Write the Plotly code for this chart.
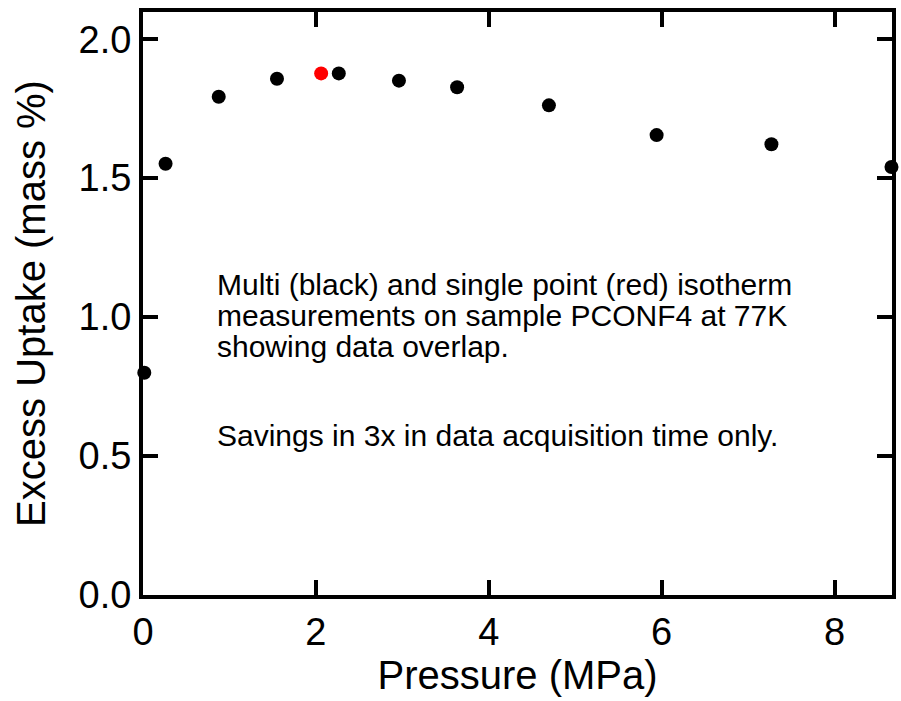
import plotly.graph_objects as go

# Multi-point isotherm (black)
multi_pressure = [0.015, 0.261, 0.876, 1.550, 2.265, 2.961, 3.634, 4.696, 5.942, 7.270, 8.659]
multi_uptake = [0.800, 1.552, 1.793, 1.858, 1.877, 1.851, 1.827, 1.762, 1.655, 1.622, 1.540]

# Single-point measurement (red)
single_pressure = [2.061]
single_uptake = [1.877]

x_ticks = [0, 2, 4, 6, 8]
y_ticks = [0.0, 0.5, 1.0, 1.5, 2.0]
y_tick_text = ["0.0", "0.5", "1.0", "1.5", "2.0"]

note_lines = [
    "Multi (black) and single point (red) isotherm",
    "measurements on sample PCONF4 at 77K",
    "showing data overlap.",
    "Savings in 3x in data acquisition time only.",
]
note_y = [0.533, 0.479, 0.426, 0.274]

font_family = "Liberation Sans, Arial, sans-serif"

fig = go.Figure()
fig.add_trace(go.Scatter(x=multi_pressure, y=multi_uptake, mode="markers",
                         marker=dict(color="black", size=14), cliponaxis=False,
                         showlegend=False))
fig.add_trace(go.Scatter(x=single_pressure, y=single_uptake, mode="markers",
                         marker=dict(color="#ff0000", size=14), cliponaxis=False,
                         showlegend=False))

for txt, yy in zip(note_lines, note_y):
    fig.add_annotation(
        x=0.096, xref="paper", xanchor="left",
        y=yy, yref="paper", yanchor="middle",
        text=txt, showarrow=False, align="left",
        font=dict(family=font_family, size=30, color="black"),
    )

fig.update_layout(
    width=901, height=701,
    margin=dict(l=143, r=9, t=12, b=106),
    paper_bgcolor="white", plot_bgcolor="white",
    font=dict(family=font_family, color="black"),
    xaxis=dict(range=[0, 8.665], tickvals=x_ticks, ticks="inside", ticklen=15, tickwidth=4,
               tickcolor="black", showline=True, linewidth=4, linecolor="black", mirror="ticks",
               showgrid=False, zeroline=False, tickfont=dict(size=38), automargin=False,
               title=dict(text="Pressure (MPa)", font=dict(size=40), standoff=8)),
    yaxis=dict(range=[0, 2.098], tickvals=y_ticks, ticktext=y_tick_text, ticks="inside",
               ticklen=15, tickwidth=4, tickcolor="black", showline=True, linewidth=4,
               linecolor="black", mirror="ticks", showgrid=False, zeroline=False,
               tickfont=dict(size=38), ticklabelstandoff=0, automargin=False,
               title=dict(text="Excess Uptake (mass %)", font=dict(size=40), standoff=22)),
)

fig.write_html("out.html", config={"displayModeBar": False},
               post_script="document.body.style.margin='0';")
